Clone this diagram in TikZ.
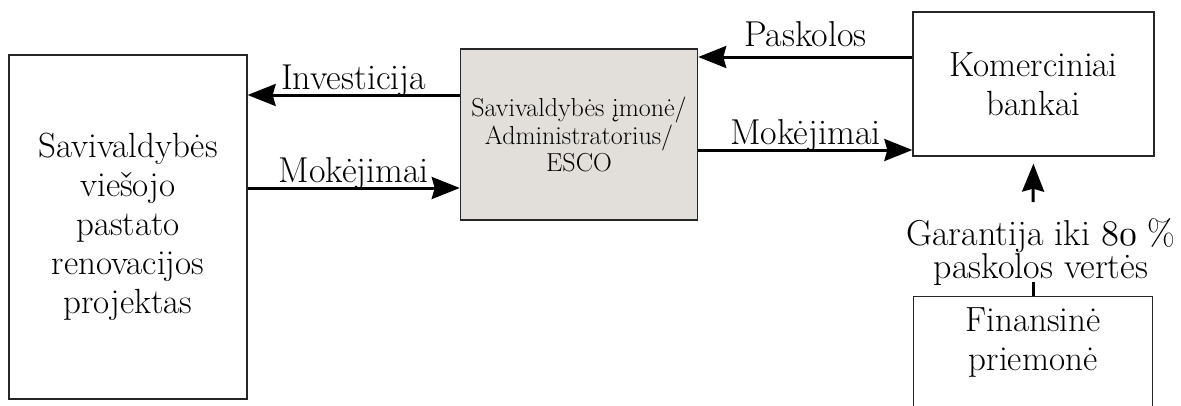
\documentclass[tikz,border=0pt]{standalone}
\usepackage{fontspec}
\usetikzlibrary{arrows.meta}
\definecolor{boxgray}{HTML}{E2DFDA}
\font\oldfig=cmmi10 at 36pt
\newcommand\oldnum[1]{{\oldfig #1}}
\tikzset{
  block/.style={draw=black!85,line width=1.3pt,align=center,inner sep=11pt,
    font=\fontsize{35}{39}\selectfont},
  flow/.style={line width=3pt,-{Stealth[length=28pt,width=22pt,inset=3pt]}},
  flowlbl/.style={inner sep=1.5pt,text depth=0.25em,font=\fontsize{36}{39}\selectfont}
}
\begin{document}
\begin{tikzpicture}[x=1pt,y=-1pt]
    \useasboundingbox (0,0) rectangle (1181,405);

    \node [block,minimum width=238pt,minimum height=344pt] (proj) at (128,227)
      {Savivaldybės\\viešojo\\pastato\\renovacijos\\projektas};
    \node [block,fill=boxgray,minimum width=236pt,minimum height=171pt,
      font=\fontsize{26}{27.5}\selectfont] (imone) at (579,134.5)
      {Savivaldybės įmonė/\\Administratorius/\\ESCO};
    \node [block,minimum width=241pt,minimum height=144pt] (bankai) at (1033.5,84)
      {Komerciniai\\bankai};
    \node [block,minimum width=239pt,anchor=north,text depth=90pt] (priem) at (1033,296)
      {Finansinė\\priemonė};
    \node [flowlbl,align=center,inner sep=0pt,font=\fontsize{36}{33}\selectfont] (garant) at (1041,250)
      {Garantija iki \oldnum{80} \%\\paskolos vertės};
    \coordinate (gtop) at (1033,202);
    \coordinate (gbot) at (1033,282);

    \draw [flow] (imone.west |- 0,95) -- (proj.east |- 0,95)
      node [midway,above,flowlbl] {Investicija};
    \draw [flow] (proj.east |- 0,188) -- (imone.west |- 0,188)
      node [midway,above,flowlbl] {Mokėjimai};
    \draw [flow] (bankai.west |- 0,57) -- (imone.east |- 0,57)
      node [midway,above,flowlbl,yshift=5pt] {Paskolos};
    \draw [flow] (imone.east |- 0,150) -- (bankai.west |- 0,150)
      node [midway,above,flowlbl] {Mokėjimai};
    \draw [flow,shorten >=7pt] (gtop) -- (bankai.south);
    \draw [line width=3pt] (priem.north) -- (gbot);
  \end{tikzpicture}
\end{document}
